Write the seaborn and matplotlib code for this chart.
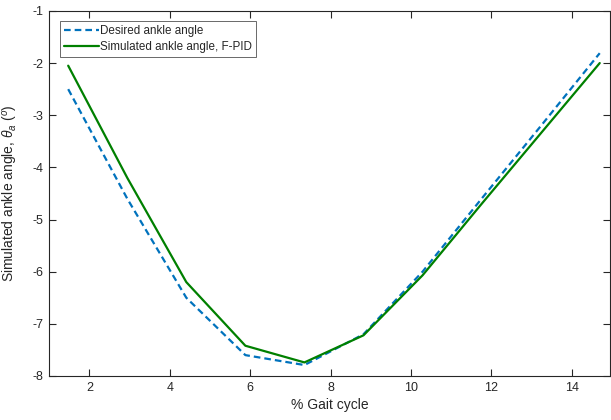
import matplotlib

matplotlib.use("Agg")
import matplotlib.pyplot as plt
import pandas as pd
import seaborn as sns

sns.set_theme(style="white")
plt.rcParams["font.family"] = ["Liberation Sans", "DejaVu Sans"]
plt.rcParams["axes.unicode_minus"] = False
plt.rcParams["mathtext.fontset"] = "custom"
plt.rcParams["mathtext.rm"] = "Liberation Sans"
plt.rcParams["mathtext.it"] = "Liberation Sans:italic"

# % gait cycle
gait = [1.47, 2.94, 4.41, 5.88, 7.35, 8.82, 10.29, 11.76, 13.23, 14.70]
# desired ankle angle (deg)
desired = [-2.50, -4.60, -6.50, -7.60, -7.79, -7.20, -6.00, -4.60, -3.21, -1.81]
# simulated ankle angle, F-PID (deg)
simulated = [-2.05, -4.20, -6.20, -7.42, -7.74, -7.22, -6.07, -4.70, -3.35, -2.00]

blue = "#0072BD"
green = "#008000"
axcol = "#262626"

df_des = pd.DataFrame({"x": gait, "y": desired})
df_sim = pd.DataFrame({"x": gait, "y": simulated})

fig = plt.figure(figsize=(6.11, 4.20), dpi=100)
ax = fig.add_axes([0.0807, 0.1048, 0.9173, 0.8692])

sns.lineplot(data=df_des, x="x", y="y", ax=ax, color=blue, lw=1.6,
             label="Desired ankle angle", linestyle=(0, (3, 1.8)))
sns.lineplot(data=df_sim, x="x", y="y", ax=ax, color=green, lw=1.6,
             label="Simulated ankle angle, F-PID")

ax.set_xlim(1.0, 14.95)
ax.set_ylim(-8, -1)
ax.set_xticks([2, 4, 6, 8, 10, 12, 14])
ax.set_yticks([-8, -7, -6, -5, -4, -3, -2, -1])

ax.set_xlabel("% Gait cycle", fontsize=10, color=axcol, labelpad=3)
ax.set_ylabel(r"Simulated ankle angle, $\theta_a$ ($^o$)", fontsize=10,
              color=axcol)
ax.yaxis.set_label_coords(-0.052, 0.5)

ax.tick_params(direction="in", length=5, width=0.8, colors=axcol,
               labelsize=9, top=True, right=True, bottom=True, left=True,
               labelcolor=axcol, pad=4.5)
for sp in ax.spines.values():
    sp.set_color(axcol)
    sp.set_linewidth(0.8)

leg = ax.legend(loc="upper left", bbox_to_anchor=(0.019, 0.973), fontsize=8.4,
                frameon=True, fancybox=False, borderpad=0.35,
                handlelength=3.0, handletextpad=0.1, labelspacing=0.35,
                borderaxespad=0.0)
leg.get_frame().set_edgecolor(axcol)
leg.get_frame().set_linewidth(0.6)
for t in leg.get_texts():
    t.set_color(axcol)

fig.savefig("out.png", dpi=100, facecolor="w")
plt.close()
